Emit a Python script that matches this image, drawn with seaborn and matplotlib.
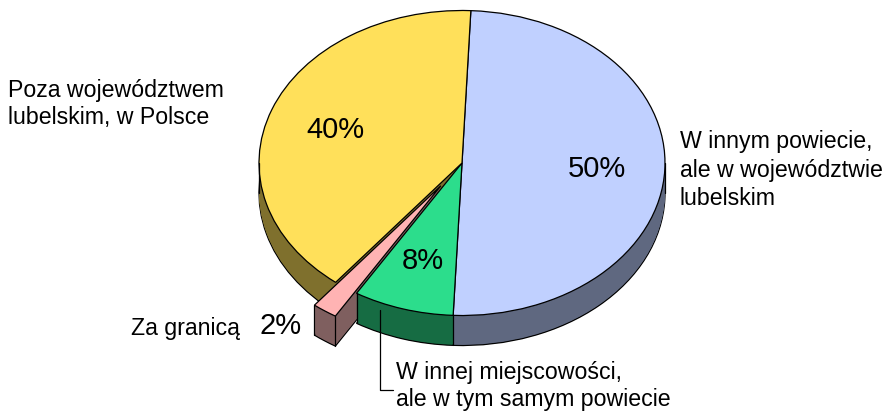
import numpy as np
import seaborn as sns
import matplotlib.pyplot as plt

values = [50, 8, 2, 40]
colors = ['#c0d0ff', '#2cdd8c', '#ffb3b3', '#ffe05a']
walls = ['#5f6880', '#166c43', '#7f5f5f', '#7f702d']
explode = [0, 0, 37, 0]  # data units, pie does not scale it by radius

W, H = 887, 412
cx, cy = 462, 163
rx, ry = 203, 152.5
depth = 30
squash = rx / ry  # y data units per pixel, tilts the pie


def py(y):
    return (H - y) * squash


sns.set_theme(style='white')
plt.rcParams['font.family'] = ['Liberation Sans', 'DejaVu Sans']

fig = plt.figure(figsize=(W / 100, H / 100), dpi=100)
ax = fig.add_axes([0, 0, 1, 1])

# side of the pie: same pie stacked from the bottom up
pie = dict(startangle=87.5, counterclock=False, radius=rx, explode=explode)
ax.pie(values, colors=walls, center=(cx, py(cy + depth)),
       wedgeprops=dict(edgecolor='black', linewidth=0.9), **pie)
for d in np.arange(depth - 1, 0, -1):
    ax.pie(values, colors=walls, center=(cx, py(cy + d)),
           wedgeprops=dict(linewidth=0), **pie)

top, _ = ax.pie(values, colors=colors, center=(cx, py(cy)),
                wedgeprops=dict(edgecolor='black', linewidth=0.9), **pie)


def rim(wedge, theta):
    x0, y0 = wedge.center
    t = np.radians(theta)
    return x0 + wedge.r * np.cos(t), y0 + wedge.r * np.sin(t)


# vertical edges of the side
drop = depth * squash
for wedge, theta in [(top[3], 180), (top[0], 0), (top[0], top[0].theta1),
                     (top[1], top[1].theta1), (top[2], top[2].theta1),
                     (top[2], top[2].theta2)]:
    x, y = rim(wedge, theta)
    ax.plot([x, x], [y, y - drop], color='black', lw=0.9)

ax.plot([380, 380, 393], [py(310), py(390), py(390)], color='black', lw=0.9)

big = 21
small = 16.7
ax.text(597, py(169), f'{values[0]}%', fontsize=big, ha='center', va='center', color='black')
ax.text(335, py(130), f'{values[3]}%', fontsize=big, ha='center', va='center', color='black')
ax.text(423, py(261), f'{values[1]}%', fontsize=big, ha='center', va='center', color='black')
ax.text(281, py(326), f'{values[2]}%', fontsize=big, ha='center', va='center', color='black')

label = dict(fontsize=small, linespacing=1.27, va='center', ha='left', color='black')
ax.text(680, py(170), 'W innym powiecie,\nale w województwie\nlubelskim',
        **{**label, 'linespacing': 1.33})
ax.text(8, py(104), 'Poza województwem\nlubelskim, w Polsce', **label)
ax.text(131, py(328), 'Za granicą', **label)
ax.text(396, py(386), 'W innej miejscowości,\nale w tym samym powiecie', **label)

ax.set_aspect('auto')
ax.set_xlim(0, W)
ax.set_ylim(0, py(0))
fig.savefig('out.png', dpi=100)
